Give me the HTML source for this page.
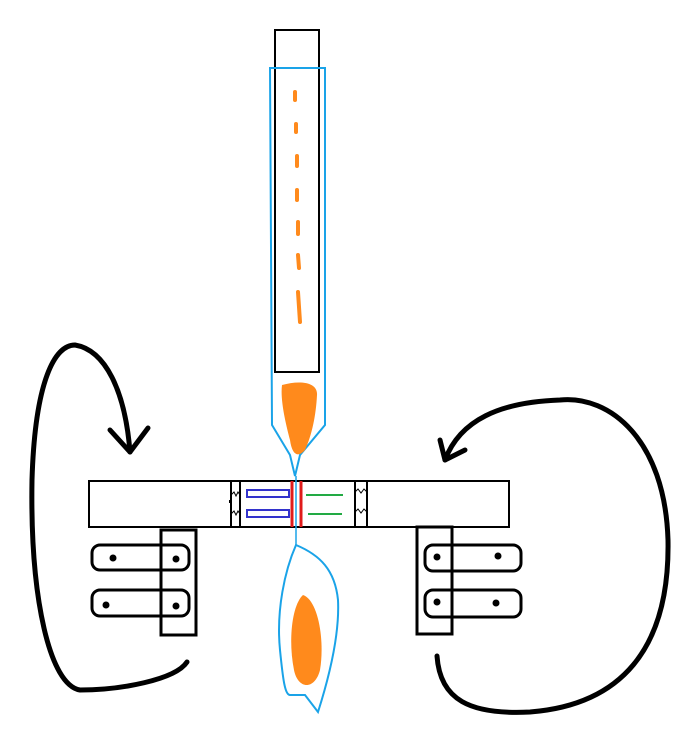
<!DOCTYPE html>
<html><head><meta charset="utf-8"><style>html,body{margin:0;padding:0;background:#fff}svg{display:block}</style></head>
<body>
<svg width="700" height="737" viewBox="0 0 700 737" xmlns="http://www.w3.org/2000/svg">
<rect width="700" height="737" fill="#fff"/>
<!-- top tube -->
<rect x="275" y="30" width="44" height="342" fill="none" stroke="#000" stroke-width="2"/>
<!-- blue outline -->
<path d="M270,68 L325,68 L325,425 L300,455 L295,476 L290,455 L272,425 Z" fill="none" stroke="#1aa3e8" stroke-width="2"/>
<!-- orange dashes -->
<g stroke="#ff8a1c" stroke-width="4" stroke-linecap="round">
<line x1="295" y1="92" x2="295" y2="100"/>
<line x1="296" y1="124" x2="296" y2="132"/>
<line x1="297" y1="156" x2="297" y2="166"/>
<line x1="297" y1="190" x2="297" y2="200"/>
<line x1="298" y1="222" x2="298" y2="234"/>
<line x1="298" y1="255" x2="299" y2="268"/>
<line x1="298" y1="292" x2="300" y2="322"/>
</g>
<!-- flame -->
<path d="M282,385 C300,380 318,382 317,395 C316,415 312,435 305,450 C298,458 292,455 290,440 C286,425 280,400 282,385 Z" fill="#ff8a1c"/>
<!-- bar -->
<rect x="89" y="481" width="420" height="46" fill="#fff" stroke="#000" stroke-width="2"/>
<g stroke="#000" stroke-width="2">
<line x1="231" y1="481" x2="231" y2="527"/><line x1="240" y1="481" x2="240" y2="527"/>
<line x1="355" y1="481" x2="355" y2="527"/><line x1="367" y1="481" x2="367" y2="527"/>
</g>
<g fill="none" stroke="#000" stroke-width="1">
<path d="M231,495 l3,-3 l2,4 l2,-4 l2,3"/><path d="M231,514 l3,-3 l2,4 l2,-4 l2,3"/>
<path d="M355,492 l3,-3 l3,4 l3,-4 l3,3"/><path d="M355,512 l3,-3 l3,4 l3,-4 l3,3"/>
</g>
<rect x="229" y="500" width="2" height="3" fill="#000"/>
<rect x="247" y="490" width="42" height="7" fill="none" stroke="#3333cc" stroke-width="2"/>
<rect x="247" y="510" width="42" height="7" fill="none" stroke="#3333cc" stroke-width="2"/>
<line x1="306" y1="495" x2="343" y2="495" stroke="#22aa44" stroke-width="2"/>
<line x1="308" y1="514" x2="342" y2="514" stroke="#22aa44" stroke-width="2"/>
<line x1="292" y1="481" x2="292" y2="527" stroke="#e01b1b" stroke-width="3"/>
<line x1="301" y1="481" x2="301" y2="527" stroke="#e01b1b" stroke-width="3"/>
<line x1="296" y1="476" x2="296" y2="545" stroke="#1aa3e8" stroke-width="1.5"/>
<!-- lower blob -->
<path d="M296,545 C285,570 276,610 280,650 C283,680 285,695 290,695 L305,695 L318,712 C325,690 340,640 338,600 C335,570 320,555 296,545 Z" fill="none" stroke="#1aa3e8" stroke-width="2"/>
<path d="M303,595 C318,600 325,640 320,670 C315,690 298,690 294,670 C288,640 292,605 303,595 Z" fill="#ff8a1c"/>
<!-- left clamp -->
<g fill="none" stroke="#000" stroke-width="3">
<rect x="92" y="545" width="97" height="25" rx="8"/>
<rect x="92" y="590" width="97" height="26" rx="8"/>
<rect x="417" y="527" width="35" height="107"/>
<rect x="425" y="545" width="96" height="26" rx="8"/>
<rect x="425" y="590" width="96" height="27" rx="8"/>
<rect x="161" y="530" width="35" height="105"/>
</g>
<g fill="#000">
<circle cx="113" cy="558" r="3.5"/><circle cx="176" cy="559" r="3.5"/>
<circle cx="106" cy="605" r="3.5"/><circle cx="176" cy="606" r="3.5"/>
<circle cx="437" cy="557" r="3.5"/><circle cx="498" cy="556" r="3.5"/>
<circle cx="437" cy="602" r="3.5"/><circle cx="496" cy="603" r="3.5"/>
</g>
<!-- curved arrows -->
<g fill="none" stroke="#000" stroke-width="5" stroke-linecap="round" stroke-linejoin="round">
<path d="M187,662 C175,680 120,690 80,690 C50,685 30,600 32,480 C35,380 55,345 75,345 C105,350 125,390 130,452"/>
<path d="M110,430 L130,452 L148,428"/>
<path d="M437,656 C440,700 470,715 530,712 C620,705 670,650 668,540 C665,440 610,395 560,400 C500,402 460,420 445,460"/>
<path d="M440,440 L445,460 L465,450"/>
</g>
</svg>
</body></html>
